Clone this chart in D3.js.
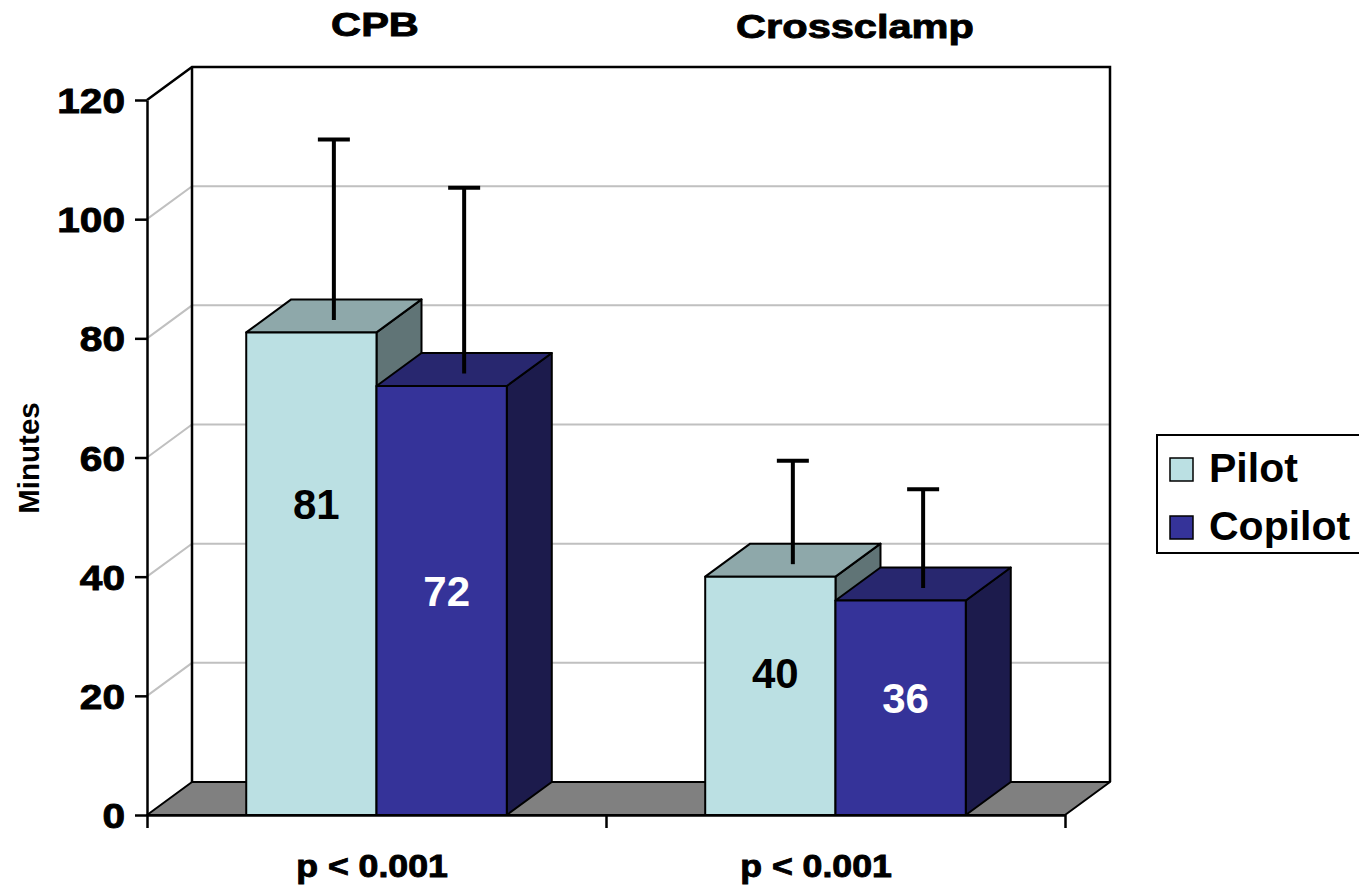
<!DOCTYPE html>
<html>
<head>
<meta charset="utf-8">
<script src="https://cdn.jsdelivr.net/npm/d3@7"></script>
<style>
  html, body { margin: 0; padding: 0; background: #ffffff; }
  svg { display: block; }
  text { font-family: "Liberation Sans", Arial, Helvetica, sans-serif; font-weight: bold; }
</style>
</head>
<body>
<svg id="chart" width="1359" height="887"></svg>
<script>
// ---- data ----
const categories = ["CPB", "Crossclamp"];
const series = ["Pilot", "Copilot"];
const pilotMeans = [81, 40];
const copilotMeans = [72, 36];
const pilotSD = [29.6, 16.7];
const copilotSD = [30.5, 15.9];
const yTicks = [0, 20, 40, 60, 80, 100, 120];
const pValueLabels = ["p < 0.001", "p < 0.001"];
const yAxisTitle = "Minutes";

// ---- layout ----
const W = 1359, H = 887;
const plotLeft = 147, plotRight = 1065, plotBottom = 815, plotTop = 100;
const depthX = 45, depthY = -33;          // 3D depth offset of the box
const font = "'Liberation Sans', Arial, Helvetica, sans-serif";
const colors = {
  Pilot:   { front: "#bbe0e3", top: "#8ea8aa", side: "#607476", label: "#000000" },
  Copilot: { front: "#353399", top: "#28276f", side: "#1c1b4c", label: "#ffffff" }
};
// heights (in minutes) at which each value label sits inside its bar
const labelLevel = { Pilot: [49.7, 21.3], Copilot: [35.1, 17.1] };

const svg = d3.select("#chart");

const y = d3.scaleLinear().domain([0, 120]).range([plotBottom, plotTop]);
const xCat = d3.scaleBand().domain(categories).range([plotLeft, plotRight])
  .paddingInner(0.4323).paddingOuter(0.2162);
const xSer = d3.scaleBand().domain(series).range([0, xCat.bandwidth()]);
const xEdges = d3.scaleLinear().domain([0, categories.length]).range([plotLeft, plotRight]);

const rows = categories.map((c, i) => ({
  category: c,
  values: [
    { series: "Pilot", mean: pilotMeans[i], sd: pilotSD[i], idx: i },
    { series: "Copilot", mean: copilotMeans[i], sd: copilotSD[i], idx: i }
  ]
}));

const pt = (a) => a.map(p => p.join(",")).join(" ");

// heavier outline for the widened black captions
const heavy = sel => sel.attr("stroke", "#000").attr("stroke-width", 0.9).attr("paint-order", "stroke");

// ---- walls and floor ----
const walls = svg.append("g");
const y0 = y(0), yMax = y(120);

// floor
walls.append("polygon")
  .attr("points", pt([[plotLeft, y0], [plotRight, y0], [plotRight + depthX, y0 + depthY], [plotLeft + depthX, y0 + depthY]]))
  .attr("fill", "#808080").attr("stroke", "#000").attr("stroke-width", 2).attr("stroke-linejoin", "round");

// gridlines on side and back walls
yTicks.filter(t => t > 0 && t < 120).forEach(t => {
  walls.append("polyline")
    .attr("points", pt([[plotLeft, y(t)], [plotLeft + depthX, y(t) + depthY], [plotRight + depthX, y(t) + depthY]]))
    .attr("fill", "none").attr("stroke", "#c0c0c0").attr("stroke-width", 2);
});

// back wall outline and side wall top edge
walls.append("polyline")
  .attr("points", pt([[plotLeft, yMax], [plotLeft + depthX, yMax + depthY], [plotRight + depthX, yMax + depthY], [plotRight + depthX, y0 + depthY]]))
  .attr("fill", "none").attr("stroke", "#000").attr("stroke-width", 2.5);
walls.append("line")
  .attr("x1", plotLeft + depthX).attr("x2", plotLeft + depthX)
  .attr("y1", yMax + depthY).attr("y2", y0 + depthY)
  .attr("stroke", "#000").attr("stroke-width", 2.5);

// ---- axes ----
const yAxis = svg.append("g")
  .attr("transform", `translate(${plotLeft},0)`)
  .call(d3.axisLeft(y).tickValues(yTicks).tickSize(12).tickSizeOuter(0).tickFormat(d3.format("d")));
yAxis.select(".domain").attr("stroke", "#000").attr("stroke-width", 2.5);
yAxis.selectAll(".tick line").attr("stroke", "#000").attr("stroke-width", 2.5);
yAxis.selectAll(".tick text")
  .attr("x", 0).attr("dy", "0.36em")
  .attr("transform", "translate(-22,0) scale(1.16,1)")
  .attr("text-anchor", "end")
  .style("font-family", font).style("font-weight", "bold").style("font-size", "35px")
  .attr("fill", "#000")
  .call(heavy);

const xAxis = svg.append("g")
  .attr("transform", `translate(0,${plotBottom})`)
  .call(d3.axisBottom(xEdges).tickValues(d3.range(categories.length + 1)).tickSize(13).tickSizeOuter(0).tickFormat(""));
xAxis.select(".domain").attr("stroke", "#000").attr("stroke-width", 2.5);
xAxis.selectAll(".tick line").attr("stroke", "#000").attr("stroke-width", 2.5);

// ---- 3D bars ----
const bars = svg.append("g");
rows.forEach(row => {
  row.values.forEach(d => {
    const xl = xCat(row.category) + xSer(d.series);
    const w = xSer.bandwidth();
    const top = y(d.mean);
    const col = colors[d.series];
    const g = bars.append("g").attr("stroke", "#000").attr("stroke-width", 2).attr("stroke-linejoin", "round");
    g.append("polygon")
      .attr("points", pt([[xl + w, top], [xl + w + depthX, top + depthY], [xl + w + depthX, y0 + depthY], [xl + w, y0]]))
      .attr("fill", col.side);
    g.append("polygon")
      .attr("points", pt([[xl, top], [xl + depthX, top + depthY], [xl + w + depthX, top + depthY], [xl + w, top]]))
      .attr("fill", col.top);
    g.append("rect")
      .attr("x", xl).attr("y", top).attr("width", w).attr("height", y0 - top)
      .attr("fill", col.front);
  });
});

// ---- error bars (mean + SD), drawn at mid-depth ----
const errs = svg.append("g").attr("stroke", "#000").attr("stroke-width", 4);
rows.forEach(row => {
  row.values.forEach(d => {
    const cx = xCat(row.category) + xSer(d.series) + xSer.bandwidth() / 2 + depthX / 2;
    const yb = y(d.mean) + depthY / 2 + 4;
    const yt = y(d.mean + d.sd) + depthY / 2;
    errs.append("line").attr("x1", cx).attr("x2", cx).attr("y1", yb).attr("y2", yt);
    errs.append("line").attr("x1", cx - 16).attr("x2", cx + 16).attr("y1", yt).attr("y2", yt);
  });
});

// ---- value labels ----
rows.forEach(row => {
  row.values.forEach(d => {
    const cx = xCat(row.category) + xSer(d.series) + xSer.bandwidth() / 2 + 5;
    svg.append("text")
      .attr("x", cx).attr("y", y(labelLevel[d.series][d.idx]))
      .attr("text-anchor", "middle")
      .style("font-size", "42px")
      .attr("fill", colors[d.series].label)
      .text(d.mean);
  });
});

// ---- category titles above the plot ----
const titleX = [375, 855];
const titleY = [36, 38];
categories.forEach((c, i) => {
  svg.append("text")
    .attr("transform", `translate(${titleX[i]},${titleY[i]}) scale(1.26,1)`)
    .attr("text-anchor", "middle")
    .style("font-size", "33px")
    .attr("fill", "#000")
    .text(c)
    .call(heavy);
});

// ---- p-values under each group ----
const pX = [372, 816];
pValueLabels.forEach((p, i) => {
  svg.append("text")
    .attr("transform", `translate(${pX[i]},877) scale(1.15,1)`)
    .attr("text-anchor", "middle")
    .style("font-size", "31px")
    .attr("fill", "#000")
    .text(p)
    .call(heavy);
});

// ---- y axis title ----
svg.append("text")
  .attr("transform", "translate(39,458) rotate(-90)")
  .attr("text-anchor", "middle")
  .style("font-size", "29.5px")
  .attr("fill", "#000")
  .text(yAxisTitle);

// ---- legend ----
const legend = svg.append("g");
legend.append("rect")
  .attr("x", 1157).attr("y", 435).attr("width", 215).attr("height", 118)
  .attr("fill", "#fff").attr("stroke", "#000").attr("stroke-width", 2);
series.forEach((s, i) => {
  const ly = 458 + i * 58;
  legend.append("rect")
    .attr("x", 1170).attr("y", ly).attr("width", 23).attr("height", 23)
    .attr("fill", colors[s].front).attr("stroke", "#000").attr("stroke-width", 1.5);
  legend.append("text")
    .attr("x", 1209).attr("y", ly + 24)
    .style("font-size", "41px")
    .attr("fill", "#000")
    .text(s);
});
</script>
</body>
</html>
